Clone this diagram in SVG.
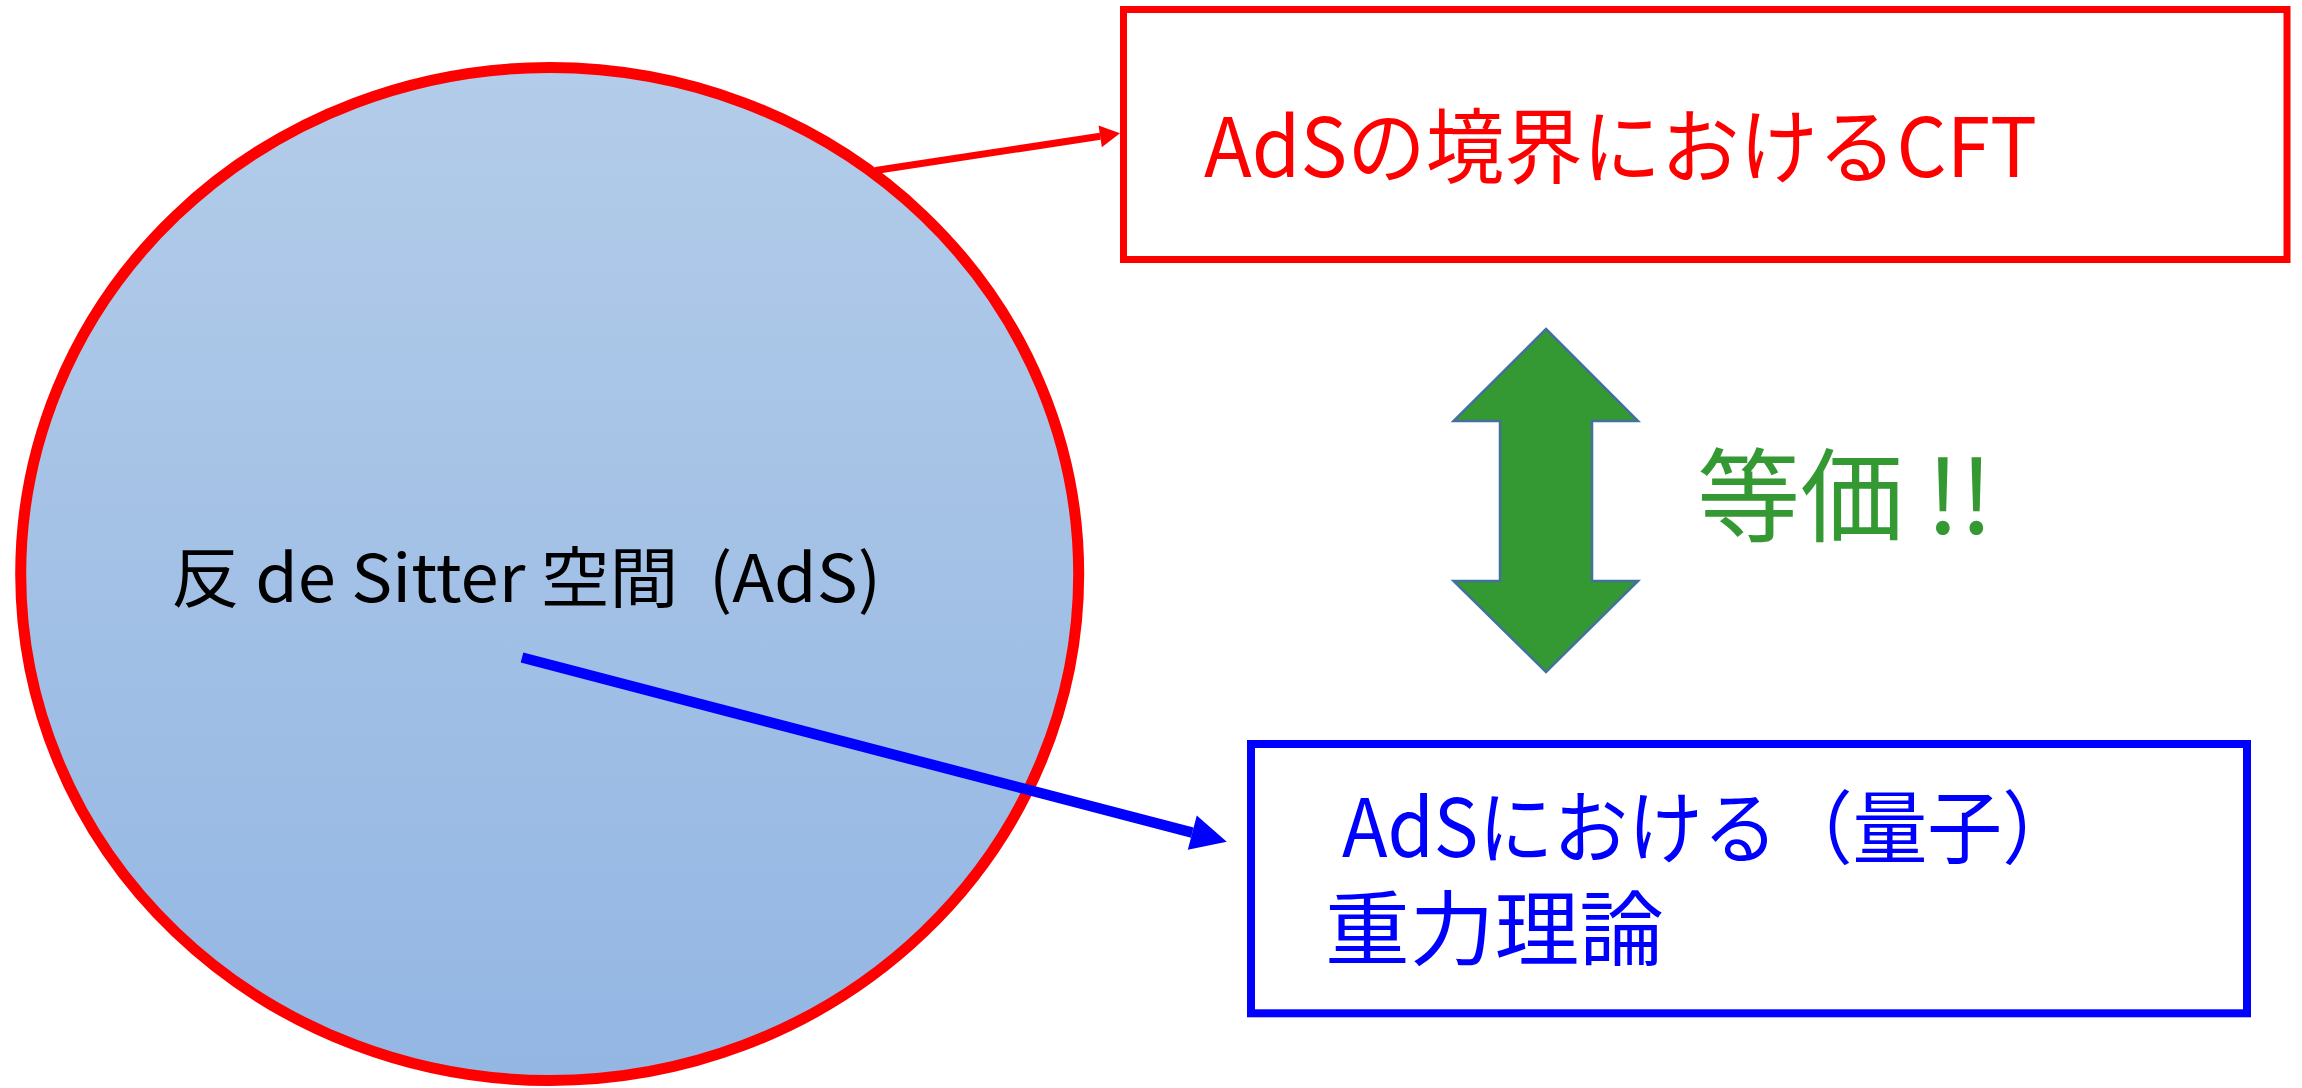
<svg xmlns="http://www.w3.org/2000/svg" width="2302" height="1088" viewBox="0 0 2302 1088">
<style>
text { font-family: "Noto Sans CJK JP", "Noto Sans", sans-serif; white-space: pre; }
.box { fill: #FFFFFF; }
</style>
<defs>
<linearGradient id="ads-fill" x1="0" y1="0" x2="0" y2="1">
<stop offset="0" stop-color="#B3CCE9"/>
<stop offset="1" stop-color="#93B6E3"/>
</linearGradient>
<marker id="arrow-red" markerUnits="userSpaceOnUse" markerWidth="24" markerHeight="26" viewBox="0 -13 22 26" refX="0" refY="0" orient="auto">
<path d="M0,-11 L20,0 L0,11 Z" fill="#FF0000"/>
</marker>
<marker id="arrow-blue" markerUnits="userSpaceOnUse" markerWidth="40" markerHeight="40" viewBox="0 -20 38 40" refX="0" refY="0" orient="auto">
<path d="M0,-17.7 L35.6,0 L0,17.7 Z" fill="#0000FF"/>
</marker>
</defs>
<rect width="2302" height="1088" fill="#FFFFFF"/>

<g id="ads-space">
<ellipse cx="549.7" cy="574" rx="529" ry="506.5" fill="url(#ads-fill)" stroke="#FF0000" stroke-width="11"/>
<text x="171" y="602" font-size="66" fill="#000000" textLength="710" lengthAdjust="spacingAndGlyphs">反 de Sitter 空間  (AdS)</text>
</g>

<g id="cft-box">
<rect class="box" x="1123.5" y="9.5" width="1163.5" height="250" stroke="#FF0000" stroke-width="7"/>
<text x="1204" y="177" font-size="82" fill="#FF0000" textLength="833" lengthAdjust="spacingAndGlyphs">AdSの境界におけるCFT</text>
</g>

<g id="gravity-box">
<rect class="box" x="1251" y="744" width="996" height="269.3" stroke="#0000FF" stroke-width="8"/>
<text x="1342" y="857" font-size="80" fill="#0000FF" textLength="735" lengthAdjust="spacingAndGlyphs">AdSにおける（量子）</text>
<text x="1325" y="959" font-size="82" fill="#0000FF" textLength="339" lengthAdjust="spacingAndGlyphs">重力理論</text>
</g>

<g id="equivalence">
<polygon points="1546,329 1638,421 1592,421 1592,581 1638,581 1546,672 1453.6,581 1500,581 1500,421 1453.6,421" fill="#349933" stroke="#41719C" stroke-width="2.5" stroke-linejoin="miter"/>
<text x="1697" y="534" font-size="102" fill="#349933" textLength="296" lengthAdjust="spacingAndGlyphs">等価 !!</text>
</g>

<g id="connectors">
<line x1="875.5" y1="170.5" x2="1100.2" y2="136.3" stroke="#FF0000" stroke-width="7" marker-end="url(#arrow-red)"/>
<line x1="522" y1="657.5" x2="1192.3" y2="832.7" stroke="#0000FF" stroke-width="10.5" marker-end="url(#arrow-blue)"/>
</g>
</svg>
